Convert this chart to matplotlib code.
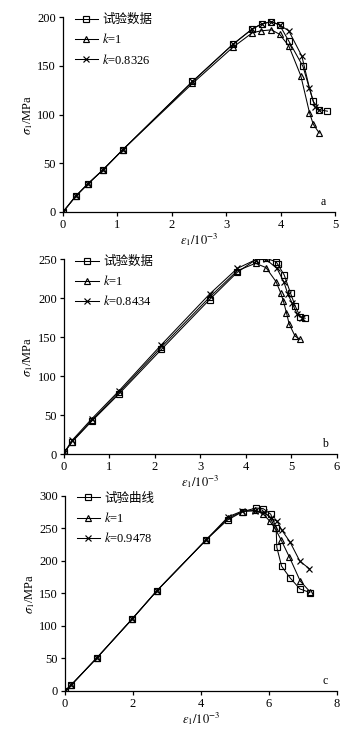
import matplotlib
matplotlib.use("Agg")
import matplotlib.pyplot as plt

plt.rcParams["font.family"] = ["Liberation Serif", "Noto Sans CJK SC"]
plt.rcParams["mathtext.fontset"] = "stix"
plt.rcParams["font.size"] = 9

# panel a
a_test_x = [0, 0.23, 0.46, 0.73, 1.10, 2.38, 3.12, 3.48, 3.65, 3.83, 3.98, 4.15, 4.41, 4.60, 4.71, 4.86]
a_test_y = [0, 16, 29, 43, 64, 134, 172, 188, 193, 195.5, 192, 175.5, 149.5, 113.5, 105, 103.5]
a_k1_x = [0, 0.23, 0.46, 0.73, 1.10, 2.38, 3.12, 3.48, 3.64, 3.83, 3.98, 4.15, 4.37, 4.53, 4.60, 4.71]
a_k1_y = [0, 16, 29, 43, 64, 132, 169, 184, 186, 187, 182.5, 170.5, 140, 102, 90, 81]
a_k2_x = [0, 0.23, 0.46, 0.73, 1.10, 2.38, 3.12, 3.48, 3.65, 3.83, 3.98, 4.15, 4.39, 4.53, 4.63, 4.71]
a_k2_y = [0, 16, 29, 43, 64, 134, 172, 188, 193, 195.5, 192, 186, 160, 127, 108, 104.5]

# panel b
b_test_x = [0, 0.18, 0.61, 1.21, 2.14, 3.20, 3.81, 4.21, 4.44, 4.66, 4.70, 4.84, 4.98, 5.08, 5.19, 5.30]
b_test_y = [2, 15.5, 42, 77, 134, 198, 233, 249, 251, 246.5, 243, 229.5, 206, 190, 176, 174]
b_k1_x = [0, 0.18, 0.61, 1.21, 2.14, 3.20, 3.81, 4.21, 4.44, 4.66, 4.76, 4.82, 4.89, 4.95, 5.08, 5.19]
b_k1_y = [1, 16, 43, 79, 137, 201, 235, 244.5, 239, 221, 207, 196.5, 181, 166.5, 151, 147]
b_k2_x = [0, 0.18, 0.61, 1.21, 2.14, 3.20, 3.81, 4.21, 4.44, 4.68, 4.83, 4.92, 5.01, 5.12, 5.23]
b_k2_y = [1, 17.5, 45, 81, 140, 205, 238, 249, 249.5, 238, 221, 205, 194, 180, 175]

# panel c
c_test_x = [0, 0.18, 0.94, 1.98, 2.70, 4.16, 4.78, 5.23, 5.62, 5.83, 6.05, 6.21, 6.23, 6.37, 6.62, 6.91, 7.20]
c_test_y = [0, 9, 51, 111, 154, 233, 263, 276, 281.5, 280.5, 272, 251, 221, 192, 174, 157, 151.5]
c_k1_x = [0, 0.18, 0.94, 1.98, 2.70, 4.16, 4.80, 5.22, 5.60, 5.83, 6.03, 6.18, 6.35, 6.60, 6.92, 7.20]
c_k1_y = [0, 9, 51, 111, 154, 233, 266, 276, 278, 272, 261, 250, 233, 206, 169, 153]
c_k2_x = [0, 0.18, 0.94, 1.98, 2.70, 4.16, 4.80, 5.22, 5.60, 5.86, 6.06, 6.24, 6.37, 6.62, 6.91, 7.19]
c_k2_y = [0, 9, 51, 111, 154, 233, 268, 277, 277, 275, 266, 261, 248, 229, 199.5, 188]

panels = [
    dict(rect=[0.1765, 0.7116, 0.762, 0.265], xmax=5, ymax=200, ystep=50, xstep=1,
         test=(a_test_x, a_test_y), k1=(a_k1_x, a_k1_y), k2=(a_k2_x, a_k2_y),
         names=["试验数据", "$k$=1", "$k$=0.8326"], tag="a"),
    dict(rect=[0.179, 0.3823, 0.765, 0.2653], xmax=6, ymax=250, ystep=50, xstep=1,
         test=(b_test_x, b_test_y), k1=(b_k1_x, b_k1_y), k2=(b_k2_x, b_k2_y),
         names=["试验数据", "$k$=1", "$k$=0.8434"], tag="b"),
    dict(rect=[0.182, 0.0599, 0.762, 0.2653], xmax=8, ymax=300, ystep=50, xstep=2,
         test=(c_test_x, c_test_y), k1=(c_k1_x, c_k1_y), k2=(c_k2_x, c_k2_y),
         names=["试验曲线", "$k$=1", "$k$=0.9478"], tag="c"),
]

fig = plt.figure(figsize=(3.57, 7.35), dpi=100)
for p in panels:
    ax = fig.add_axes(p["rect"])
    kw = dict(color="black", lw=0.75, ms=4.6, mfc="none", mew=0.85)
    ax.plot(*p["test"], marker="s", label=p["names"][0], **kw)
    ax.plot(*p["k1"], marker="^", label=p["names"][1], **kw)
    ax.plot(*p["k2"], marker="x", label=p["names"][2], **kw)
    ax.set_xlim(0, p["xmax"])
    ax.set_ylim(0, p["ymax"])
    ax.set_xticks(range(0, p["xmax"] + 1, p["xstep"]))
    ax.set_yticks(range(0, p["ymax"] + 1, p["ystep"]))
    ax.spines["top"].set_visible(False)
    ax.spines["right"].set_visible(False)
    ax.spines["left"].set_linewidth(0.9)
    ax.spines["bottom"].set_linewidth(0.9)
    ax.tick_params(direction="out", length=3, width=0.9, labelsize=9, pad=2)
    ax.set_xlabel(r"$\varepsilon_1/10^{-3}$", fontsize=9, labelpad=0)
    ax.set_ylabel(r"$\sigma_1$/MPa", fontsize=9, labelpad=2)
    ax.text(0.956, 0.05, p["tag"], transform=ax.transAxes, ha="center", va="center", fontsize=8.5)
    ax.legend(loc="upper left", bbox_to_anchor=(0.015, 1.055), frameon=False,
              handlelength=1.9, handletextpad=0.3, labelspacing=0.5, fontsize=9,
              borderaxespad=0.2)

fig.savefig("out.png", dpi=100)
